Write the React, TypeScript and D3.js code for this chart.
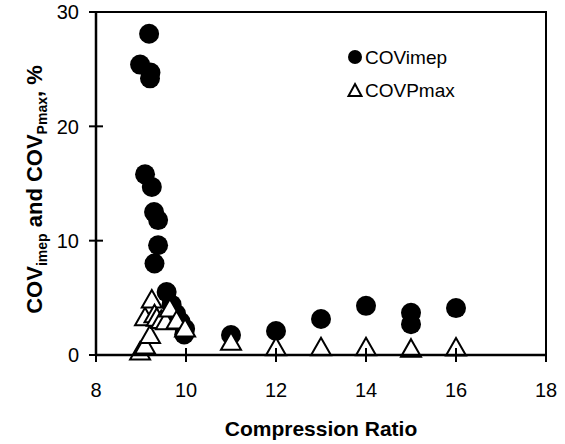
import React, { useEffect, useRef } from 'react';
import * as d3 from 'd3';

// COVimep (filled circles)
const imepRatio = [9.18, 8.98, 9.21, 9.2, 9.09, 9.24, 9.29, 9.38, 9.38, 9.3, 9.57, 9.68, 9.78, 9.88, 9.98, 9.96, 11, 12, 13, 14, 15, 15, 16];
const imepCov = [28.1, 25.4, 24.7, 24.2, 15.8, 14.7, 12.5, 11.8, 9.6, 8.0, 5.5, 4.4, 3.6, 2.9, 2.3, 1.8, 1.75, 2.1, 3.15, 4.3, 3.7, 2.7, 4.1];

// COVPmax (open triangles)
const pmaxRatio = [8.98, 9.09, 9.2, 9.09, 9.24, 9.3, 9.35, 9.45, 9.55, 9.64, 9.79, 9.98, 11, 12, 13, 14, 15, 16];
const pmaxCov = [0.35, 0.87, 1.8, 3.35, 4.9, 3.6, 3.3, 3.1, 3.0, 4.1, 3.06, 2.36, 1.2, 0.73, 0.73, 0.73, 0.6, 0.7];

const xTicks = [8, 10, 12, 14, 16, 18];
const yTicks = [0, 10, 20, 30];

const FONT = 'Arial, "Liberation Sans", sans-serif';

const App = () => {
  const svgRef = useRef<SVGSVGElement>(null);

  useEffect(() => {
    const svg = d3.select(svgRef.current);
    svg.selectAll('*').remove();

    const margin = { top: 12, right: 19, bottom: 89, left: 96 };
    const width = 565;
    const height = 444;
    const innerWidth = width - margin.left - margin.right;
    const innerHeight = height - margin.top - margin.bottom;

    const x = d3.scaleLinear().domain([8, 18]).range([0, innerWidth]);
    const y = d3.scaleLinear().domain([0, 30]).range([innerHeight, 0]);

    const g = svg.append('g')
      .attr('transform', `translate(${margin.left},${margin.top})`);

    // points
    const imep = imepRatio.map((r, i) => ({ x: r, y: imepCov[i] }));
    const pmax = pmaxRatio.map((r, i) => ({ x: r, y: pmaxCov[i] }));

    g.selectAll('.dot')
      .data(imep)
      .enter().append('circle')
      .attr('class', 'dot')
      .attr('cx', d => x(d.x))
      .attr('cy', d => y(d.y))
      .attr('r', 10)
      .attr('fill', 'black');

    const tri = 'M0,-9L10,8.5L-10,8.5Z';
    g.selectAll('.tri')
      .data(pmax)
      .enter().append('path')
      .attr('class', 'tri')
      .attr('d', tri)
      .attr('transform', d => `translate(${x(d.x)},${y(d.y)})`)
      .attr('fill', 'white')
      .attr('stroke', 'black')
      .attr('stroke-width', 2);

    // frame: top and right
    g.append('path')
      .attr('d', `M0,0H${innerWidth}V${innerHeight}`)
      .attr('fill', 'none')
      .attr('stroke', 'black')
      .attr('stroke-width', 2);

    // axes
    g.append('line')
      .attr('x1', 0).attr('x2', innerWidth)
      .attr('y1', innerHeight).attr('y2', innerHeight)
      .attr('stroke', 'black').attr('stroke-width', 2.5);
    g.append('line')
      .attr('x1', 0).attr('x2', 0)
      .attr('y1', 0).attr('y2', innerHeight)
      .attr('stroke', 'black').attr('stroke-width', 2.5);

    // x ticks cross the axis
    g.selectAll('.xt')
      .data(xTicks)
      .enter().append('line')
      .attr('x1', d => x(d)).attr('x2', d => x(d))
      .attr('y1', innerHeight - 7).attr('y2', innerHeight + 7)
      .attr('stroke', 'black').attr('stroke-width', 2);

    g.selectAll('.xl')
      .data(xTicks)
      .enter().append('text')
      .attr('x', d => x(d))
      .attr('y', innerHeight + 42)
      .attr('text-anchor', 'middle')
      .attr('font-family', FONT)
      .attr('font-size', 20)
      .text(d => d);

    g.selectAll('.yt')
      .data(yTicks)
      .enter().append('line')
      .attr('x1', -7).attr('x2', 7)
      .attr('y1', d => y(d)).attr('y2', d => y(d))
      .attr('stroke', 'black').attr('stroke-width', 2);

    g.selectAll('.yl')
      .data(yTicks)
      .enter().append('text')
      .attr('x', -17)
      .attr('y', d => y(d))
      .attr('dy', '0.36em')
      .attr('text-anchor', 'end')
      .attr('font-family', FONT)
      .attr('font-size', 20)
      .text(d => d);

    // axis titles
    svg.append('text')
      .attr('x', margin.left + innerWidth / 2)
      .attr('y', 436)
      .attr('text-anchor', 'middle')
      .attr('font-family', FONT)
      .attr('font-size', 21)
      .attr('font-weight', 'bold')
      .text('Compression Ratio');

    const yt = svg.append('text')
      .attr('transform', `translate(42,${margin.top + innerHeight / 2 + 6}) rotate(-90)`)
      .attr('text-anchor', 'middle')
      .attr('font-family', FONT)
      .attr('font-size', 22)
      .attr('font-weight', 'bold');
    yt.append('tspan').text('COV');
    yt.append('tspan').attr('font-size', 14).attr('dy', 5).text('imep');
    yt.append('tspan').attr('dy', -5).text(' and COV');
    yt.append('tspan').attr('font-size', 14).attr('dy', 5).text('Pmax');
    yt.append('tspan').attr('dy', -5).text(', %');

    // legend
    const lg = svg.append('g');
    lg.append('circle')
      .attr('cx', 355).attr('cy', 57).attr('r', 7).attr('fill', 'black');
    lg.append('text')
      .attr('x', 365).attr('y', 64)
      .attr('font-family', FONT).attr('font-size', 19)
      .text('COVimep');
    lg.append('path')
      .attr('d', 'M0,-6L6.5,6L-6.5,6Z')
      .attr('transform', 'translate(355,90)')
      .attr('fill', 'white').attr('stroke', 'black').attr('stroke-width', 2);
    lg.append('text')
      .attr('x', 365).attr('y', 97)
      .attr('font-family', FONT).attr('font-size', 19)
      .text('COVPmax');
  }, []);

  return (
    <svg
      ref={svgRef}
      width={565}
      height={444}
      style={{ position: 'absolute', left: 0, top: 0, background: 'white' }}
    />
  );
};

export default App;
